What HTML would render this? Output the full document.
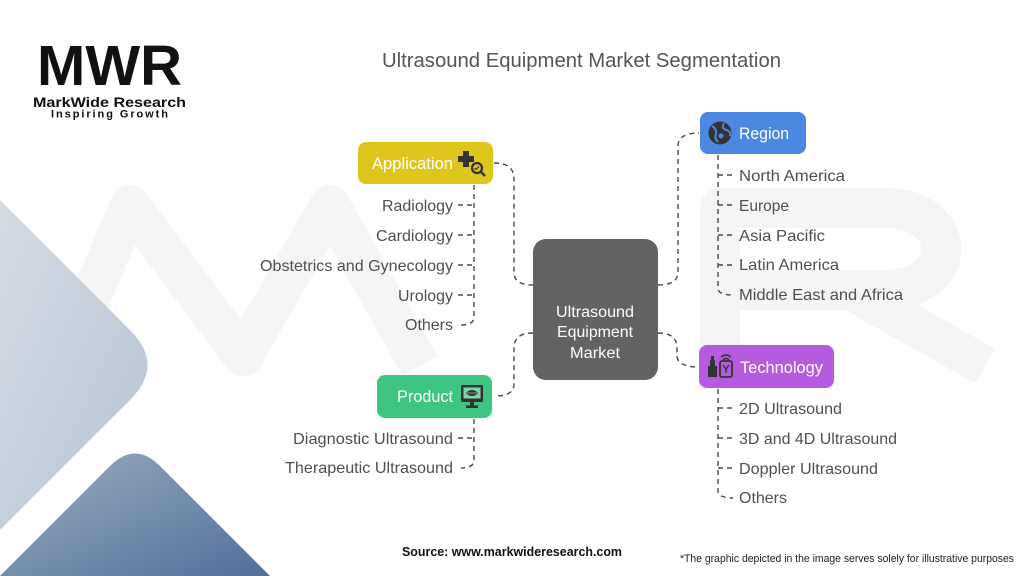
<!DOCTYPE html>
<html><head><meta charset="utf-8">
<style>
html,body{margin:0;padding:0;background:#fff;}
svg{display:block;}
text{font-family:"Liberation Sans",Arial,sans-serif;}
</style></head>
<body>
<svg width="1024" height="576" viewBox="0 0 1024 576" xmlns="http://www.w3.org/2000/svg">
<defs>
<linearGradient id="lg1" x1="0" y1="0" x2="1" y2="1">
<stop offset="0" stop-color="#d3dbe5"/><stop offset="1" stop-color="#b7c4d4"/>
</linearGradient>
<linearGradient id="lg2" x1="0" y1="0" x2="1" y2="1">
<stop offset="0" stop-color="#9aabc1"/><stop offset="1" stop-color="#52709a"/>
</linearGradient>
</defs>
<rect width="1024" height="576" fill="#fff"/>

<!-- watermark -->
<g fill="none" stroke="#f5f5f5" stroke-width="40" stroke-linejoin="round" stroke-linecap="butt">
<polyline points="62,366 130,205 243,356 330,205 420,366"/>
<path d="M720,366 L720,208 L885,208 C960,208 960,290 885,290 L735,290 M850,290 L985,366"/>
</g>

<!-- left decorative shapes -->
<path d="M0,200 L130,330 Q165,365 130,400 L0,530 Z" fill="url(#lg1)"/>
<path d="M0,576 L110,466 Q135,441 160,466 L270,576 Z" fill="url(#lg2)"/>

<!-- logo -->
<text x="37" y="85" font-size="57" font-weight="bold" fill="#111" textLength="145" lengthAdjust="spacingAndGlyphs">MWR</text>
<text x="33" y="107" font-size="14" font-weight="bold" fill="#111" textLength="153" lengthAdjust="spacingAndGlyphs">MarkWide Research</text>
<text x="51" y="117.5" font-size="11" font-weight="bold" fill="#111" textLength="117" lengthAdjust="spacing">Inspiring Growth</text>

<!-- title -->
<text x="382" y="67" font-size="20.5" fill="#555" textLength="399" lengthAdjust="spacingAndGlyphs">Ultrasound Equipment Market Segmentation</text>

<!-- connectors -->
<g fill="none" stroke="#4a4a4a" stroke-width="1.4" stroke-dasharray="5,4">
<path d="M494,163 C508,163 514,168 514,180 L514,272 C514,281 520,285 533,285"/>
<path d="M533,333 C520,333 514,338 514,348 L514,384 C514,392 508,396 494,396"/>
<path d="M658,285 C671,285 678,281 678,272 L678,146 C678,137 686,133 699,133"/>
<path d="M658,333 C671,333 677,338 677,348 L677,356 C677,363 685,367 698,367"/>
<path d="M474,185 L474,317 C474,322 470,325 461,325"/>
<path d="M458,205 H474 M458,235 H474 M458,265 H474 M458,295 H474"/>
<path d="M474,419 L474,460 C474,465 470,468 461,468"/>
<path d="M458,438 H474"/>
<path d="M718,155 L718,288 C718,292 722,295 733,295"/>
<path d="M718,175 H734 M718,205 H734 M718,235 H734 M718,265 H734"/>
<path d="M718,389 L718,491 C718,495 722,498 733,498"/>
<path d="M718,408 H734 M718,438 H734 M718,468 H734"/>
</g>

<!-- central node -->
<rect x="533" y="239" width="125" height="141" rx="13" fill="#636363"/>
<g fill="#fff" font-size="15.5" text-anchor="middle">
<text x="595" y="317" textLength="78" lengthAdjust="spacingAndGlyphs">Ultrasound</text>
<text x="595" y="337" textLength="76" lengthAdjust="spacingAndGlyphs">Equipment</text>
<text x="595" y="358" textLength="50" lengthAdjust="spacingAndGlyphs">Market</text>
</g>

<!-- Application -->
<rect x="358" y="142" width="135" height="42" rx="8" fill="#dfc61c"/>
<text x="372" y="169" font-size="16.5" fill="#fff" textLength="81" lengthAdjust="spacingAndGlyphs">Application</text>
<g fill="#333">
<rect x="463" y="151" width="6" height="16"/>
<rect x="458" y="156" width="16" height="6"/>
</g>
<circle cx="477" cy="168" r="6.5" fill="#dfc61c"/>
<circle cx="477" cy="168" r="5" fill="none" stroke="#333" stroke-width="2.3"/>
<line x1="480.5" y1="171.5" x2="485" y2="176" stroke="#333" stroke-width="2.5"/>
<path d="M474.5,168 l1.5,1.5 l3,-3" fill="none" stroke="#333" stroke-width="1.2"/>

<!-- Region -->
<rect x="700" y="112" width="106" height="42" rx="8" fill="#4a88e2"/>
<circle cx="720" cy="133" r="11.5" fill="#333"/>
<path d="M712,126 q5,3 4,8 q-2,4 2,8" fill="none" stroke="#4a88e2" stroke-width="2"/>
<path d="M724,123 q-3,5 2,7 q5,1 4,6" fill="none" stroke="#4a88e2" stroke-width="2"/>
<circle cx="721" cy="136" r="2.5" fill="#4a88e2"/>
<text x="739" y="139" font-size="16.5" fill="#fff" textLength="50" lengthAdjust="spacingAndGlyphs">Region</text>

<!-- Technology -->
<rect x="699" y="345" width="135" height="43" rx="8" fill="#b45be0"/>
<g fill="#333">
<rect x="708" y="366" width="9" height="11"/>
<rect x="710" y="360" width="5" height="6"/>
<rect x="711" y="356" width="3" height="4"/>
</g>
<rect x="720" y="361" width="12" height="16" rx="2" fill="none" stroke="#333" stroke-width="1.8"/>
<path d="M723,365 l3,4 l3,-4 M726,369 v4" fill="none" stroke="#333" stroke-width="1.3"/>
<path d="M721,357 q5,-4 10,0 M723,359.5 q3,-2 6,0" fill="none" stroke="#333" stroke-width="1.4"/>
<text x="740" y="373" font-size="16.5" fill="#fff" textLength="83" lengthAdjust="spacingAndGlyphs">Technology</text>

<!-- Product -->
<rect x="377" y="375" width="115" height="43" rx="8" fill="#3ec581"/>
<text x="397" y="402" font-size="16.5" fill="#fff" textLength="56" lengthAdjust="spacingAndGlyphs">Product</text>
<rect x="461" y="385" width="22" height="17" rx="1.5" fill="#333"/>
<rect x="463.5" y="387.5" width="17" height="11" fill="#7fd4a8"/>
<path d="M465.5,393 q6.5,-6 13,0 q-6.5,6 -13,0 Z" fill="#333"/>
<line x1="466" y1="393" x2="478" y2="393" stroke="#7fd4a8" stroke-width="0.8"/>
<rect x="470" y="402" width="4" height="4" fill="#333"/>
<rect x="466" y="405.5" width="12" height="2.5" fill="#333"/>

<!-- list items -->
<g font-size="16" fill="#4f4f4f">
<g text-anchor="end">
<text x="453" y="211" textLength="71" lengthAdjust="spacingAndGlyphs">Radiology</text>
<text x="453" y="241" textLength="77" lengthAdjust="spacingAndGlyphs">Cardiology</text>
<text x="453" y="271" textLength="193" lengthAdjust="spacingAndGlyphs">Obstetrics and Gynecology</text>
<text x="453" y="301" textLength="55" lengthAdjust="spacingAndGlyphs">Urology</text>
<text x="453" y="330" textLength="48" lengthAdjust="spacingAndGlyphs">Others</text>
<text x="453" y="444" textLength="160" lengthAdjust="spacingAndGlyphs">Diagnostic Ultrasound</text>
<text x="453" y="473" textLength="168" lengthAdjust="spacingAndGlyphs">Therapeutic Ultrasound</text>
</g>
<text x="739" y="181" textLength="106" lengthAdjust="spacingAndGlyphs">North America</text>
<text x="739" y="211" textLength="50" lengthAdjust="spacingAndGlyphs">Europe</text>
<text x="739" y="241" textLength="86" lengthAdjust="spacingAndGlyphs">Asia Pacific</text>
<text x="739" y="270" textLength="100" lengthAdjust="spacingAndGlyphs">Latin America</text>
<text x="739" y="300" textLength="164" lengthAdjust="spacingAndGlyphs">Middle East and Africa</text>
<text x="739" y="414" textLength="103" lengthAdjust="spacingAndGlyphs">2D Ultrasound</text>
<text x="739" y="444" textLength="158" lengthAdjust="spacingAndGlyphs">3D and 4D Ultrasound</text>
<text x="739" y="474" textLength="139" lengthAdjust="spacingAndGlyphs">Doppler Ultrasound</text>
<text x="739" y="503" textLength="48" lengthAdjust="spacingAndGlyphs">Others</text>
</g>

<!-- footer -->
<text x="402" y="556" font-size="13" font-weight="bold" fill="#111" textLength="220" lengthAdjust="spacingAndGlyphs">Source: www.markwideresearch.com</text>
<text x="680" y="562" font-size="11" fill="#222" textLength="334" lengthAdjust="spacingAndGlyphs">*The graphic depicted in the image serves solely for illustrative purposes</text>
</svg>
</body></html>
